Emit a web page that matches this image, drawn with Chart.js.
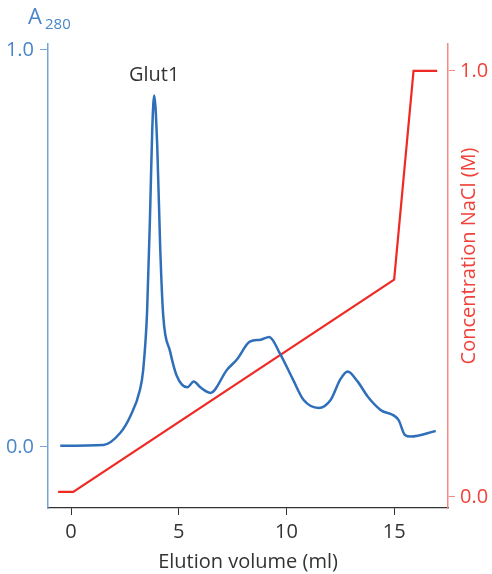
<!DOCTYPE html>
<html>
<head>
<meta charset="utf-8">
<script src="https://cdn.jsdelivr.net/npm/chart.js@4.4.1/dist/chart.umd.min.js"></script>
<style>
  html, body { margin: 0; padding: 0; background: #fff; }
  #wrap { width: 492px; height: 574px; }
</style>
</head>
<body>
<div id="wrap"><canvas id="chart"></canvas></div>
<script>
// elution volume (ml) vs A280
var a280Volume = [-0.5, 1.5, 2.28, 2.74, 3.2, 3.35, 3.53, 3.67, 3.77, 3.86, 4.0, 4.14, 4.28, 4.6, 4.9, 5.4, 5.7, 6.0, 6.47, 7.25, 7.7, 8.3, 8.8, 9.2, 9.7, 10.3, 10.8, 11.5, 12.05, 12.5, 12.84, 13.3, 13.77, 14.37, 15.2, 15.5, 15.77, 16.93];
var a280Values = [0.003, 0.005, 0.035, 0.076, 0.144, 0.194, 0.34, 0.59, 0.80, 0.885, 0.76, 0.50, 0.33, 0.24, 0.18, 0.15, 0.165, 0.15, 0.136, 0.195, 0.22, 0.265, 0.27, 0.277, 0.235, 0.17, 0.118, 0.098, 0.118, 0.17, 0.19, 0.165, 0.127, 0.093, 0.068, 0.03, 0.026, 0.04];

// NaCl gradient
var naclVolume = [-0.6, 0.1, 15.0, 15.9, 17.0];
var naclValues = [0.012, 0.012, 0.51, 1.0, 1.0];

var xTicks = [0, 5, 10, 15];
var a280Ticks = [0, 1];
var naclTicks = [0, 1];

var FONT = "'Open Sans', sans-serif";
var BLUE = "#2f6fba";
var BLUE_AXIS = "#76a3d8";
var BLUE_TEXT = "#4a86c8";
var RED = "#ee2a24";
var RED_AXIS = "#f48a84";
var RED_TEXT = "#f0413a";

function toPoints(xs, ys) {
    var pts = [];
    for (var i = 0; i < xs.length; i++) pts.push({x: xs[i], y: ys[i]});
    return pts;
}

function fixTicks(values) {
    return function(scale) {
        scale.ticks = values.map(function(v) { return {value: v}; });
    };
}

var labelsPlugin = {
    id: "labels",
    afterDraw: function(chart) {
        var ctx = chart.ctx;
        var x = chart.scales.x, yl = chart.scales.yA;
        ctx.save();
        // A280 axis title
        ctx.fillStyle = BLUE_TEXT;
        ctx.textBaseline = "alphabetic";
        ctx.textAlign = "left";
        ctx.font = "22px " + FONT;
        ctx.fillText("A", 28, 24);
        ctx.font = "15px " + FONT;
        ctx.fillText("280", 45, 29);
        // peak label
        ctx.fillStyle = "#333";
        ctx.textAlign = "center";
        ctx.font = "20px " + FONT;
        ctx.fillText("Glut1", x.getPixelForValue(3.86), yl.getPixelForValue(0.922));
        // right axis title
        ctx.fillStyle = RED_TEXT;
        ctx.translate(469, 256);
        ctx.rotate(-Math.PI / 2);
        ctx.textBaseline = "middle";
        ctx.fillText("Concentration NaCl (M)", 0, 0);
        ctx.restore();
    }
};

new Chart(document.getElementById("chart"), {
    type: "scatter",
    data: {
        datasets: [
            {
                label: "A280",
                data: toPoints(a280Volume, a280Values),
                yAxisID: "yA",
                showLine: true,
                borderColor: BLUE,
                borderWidth: 2.5,
                pointRadius: 0,
                cubicInterpolationMode: "monotone"
            },
            {
                label: "NaCl",
                data: toPoints(naclVolume, naclValues),
                yAxisID: "yN",
                showLine: true,
                borderColor: RED,
                borderWidth: 2.2,
                pointRadius: 0,
                tension: 0
            }
        ]
    },
    plugins: [labelsPlugin],
    options: {
        responsive: true,
        maintainAspectRatio: false,
        animation: false,
        layout: {padding: {top: 44, left: 0, right: 0, bottom: 0}},
        plugins: {legend: {display: false}, tooltip: {enabled: false}},
        scales: {
            x: {
                type: "linear",
                min: -1.07,
                max: 17.5,
                afterBuildTicks: fixTicks(xTicks),
                afterFit: function(s) { s.height = 66; },
                border: {color: "#333", width: 1.2},
                grid: {drawOnChartArea: false, drawTicks: true, tickLength: 7, color: "#333"},
                ticks: {color: "#333", font: {family: FONT, size: 20}, padding: 5},
                title: {display: true, text: "Elution volume (ml)", color: "#333", font: {family: FONT, size: 20}, padding: {top: 0, bottom: 0}}
            },
            yA: {
                type: "linear",
                position: "left",
                min: -0.154,
                max: 1.015,
                afterBuildTicks: fixTicks(a280Ticks),
                afterFit: function(s) { s.width = 48; },
                border: {color: BLUE_AXIS, width: 1.5},
                grid: {drawOnChartArea: false, drawTicks: true, tickLength: 8, color: BLUE_AXIS},
                ticks: {color: BLUE_TEXT, font: {family: FONT, size: 20}, padding: 6,
                    callback: function(v) { return v.toFixed(1); }}
            },
            yN: {
                type: "linear",
                position: "right",
                min: -0.026,
                max: 1.063,
                afterBuildTicks: fixTicks(naclTicks),
                afterFit: function(s) { s.width = 44; },
                border: {color: RED_AXIS, width: 1.5},
                grid: {drawOnChartArea: false, drawTicks: true, tickLength: 7, color: RED_AXIS},
                ticks: {color: RED_TEXT, font: {family: FONT, size: 20}, padding: 5,
                    callback: function(v) { return v.toFixed(1); }}
            }
        }
    }
});
</script>
</body>
</html>
